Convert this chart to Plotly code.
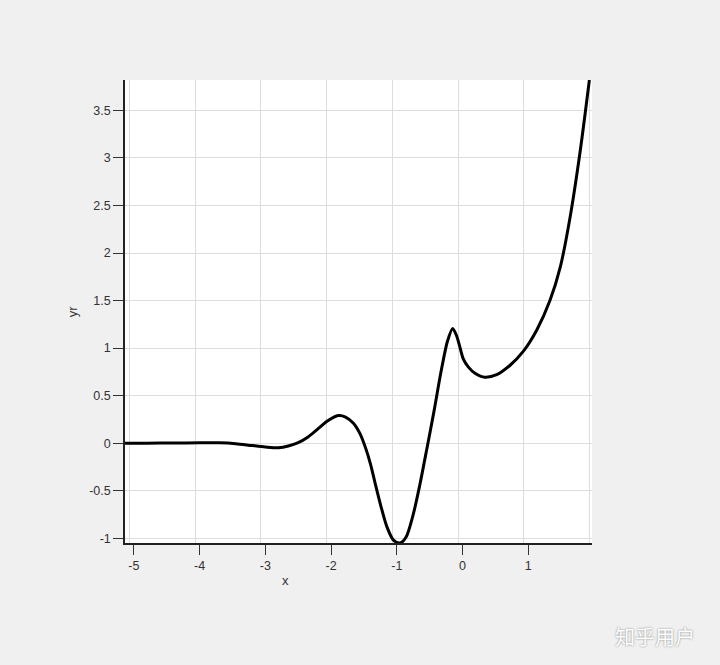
import plotly.graph_objects as go

# data
x_vals = [-5.135, -4.8, -4.4, -4.0, -3.7, -3.45, -3.2, -3.0, -2.8, -2.65,
          -2.5, -2.35, -2.2, -2.05, -1.89, -1.78, -1.66, -1.56, -1.47, -1.4,
          -1.33, -1.25, -1.15, -1.05, -0.95, -0.86, -0.75, -0.65, -0.54, -0.43,
          -0.33, -0.23, -0.15, -0.09, -0.04, 0.01, 0.09, 0.19, 0.34, 0.52,
          0.72, 0.93, 1.13, 1.33, 1.49, 1.64, 1.79, 1.93]
y_vals = [0.0, 0.0, 0.002, 0.004, 0.004, -0.005, -0.025, -0.04, -0.048, -0.03,
          0.005, 0.065, 0.15, 0.235, 0.29, 0.275, 0.21, 0.1, -0.06, -0.22,
          -0.42, -0.64, -0.88, -1.02, -1.05, -0.99, -0.75, -0.44, -0.05, 0.35,
          0.74, 1.07, 1.207, 1.13, 1.01, 0.89, 0.80, 0.736, 0.694, 0.72,
          0.817, 0.97, 1.19, 1.5, 1.86, 2.39, 3.07, 3.82]

x_ticks = [-5, -4, -3, -2, -1, 0, 1]
x_tick_text = ["-5", "-4", "-3", "-2", "-1", "0", "1"]
y_ticks = [-1, -0.5, 0, 0.5, 1, 1.5, 2, 2.5, 3, 3.5]
y_tick_text = ["-1", "-0.5", "0", "0.5", "1", "1.5", "2", "2.5", "3", "3.5"]

x_range = [-5.135, 1.97]
y_range = [-1.05, 3.82]
grid_shift = 0.068  # gridlines sit a few pixels left of the ticks

fig = go.Figure()
# helper trace so the grid axis is drawn
fig.add_trace(go.Scatter(x=[None], y=[None], xaxis="x2", yaxis="y",
                         showlegend=False, hoverinfo="skip"))
fig.add_trace(go.Scatter(x=x_vals, y=y_vals, mode="lines",
                         line=dict(color="#000000", width=3, shape="spline", smoothing=0.8),
                         showlegend=False))

font_family = "Liberation Sans, Arial, sans-serif"

fig.update_layout(
    width=720, height=665,
    margin=dict(l=125, r=128, t=80, b=122),
    paper_bgcolor="#f0f0f0",
    plot_bgcolor="#ffffff",
    font=dict(family=font_family, size=12, color="#333333"),
    xaxis=dict(range=x_range, tickvals=x_ticks, ticktext=x_tick_text,
               showgrid=False, zeroline=False,
               showline=True, linecolor="#222222", linewidth=1.5,
               ticks="outside", ticklen=10, tickcolor="#333333", tickwidth=1,
               tickfont=dict(size=12.5, color="#333333")),
    xaxis2=dict(range=[x_range[0] + grid_shift, x_range[1] + grid_shift],
                overlaying="x", tickvals=x_ticks + [2], showticklabels=False,
                showgrid=True, gridcolor="#dddddd", gridwidth=1, zeroline=False,
                showline=False, ticks=""),
    yaxis=dict(range=y_range, tickvals=y_ticks, ticktext=y_tick_text,
               showgrid=True, gridcolor="#dddddd", gridwidth=1, zeroline=False,
               showline=True, linecolor="#222222", linewidth=1.5,
               ticks="outside", ticklen=10, tickcolor="#333333", tickwidth=1,
               tickfont=dict(size=12.5, color="#333333")),
    annotations=[
        dict(text="x", xref="paper", yref="paper", x=0.344, y=-0.08,
             xanchor="center", yanchor="middle", showarrow=False,
             font=dict(size=13, color="#333333")),
        dict(text="yr", xref="paper", yref="paper", x=-0.112, y=0.5,
             xanchor="center", yanchor="middle", textangle=-90, showarrow=False,
             font=dict(size=13, color="#333333")),
        dict(text="知乎用户", xref="paper", yref="paper", x=1.135, y=-0.203,
             xanchor="center", yanchor="middle", showarrow=False,
             font=dict(family="Noto Sans CJK SC", size=20, color="#ffffff",
                       shadow="0px 0px 2px #777777")),
    ],
)

fig.write_html("out.html", config={"displayModeBar": False},
               post_script="document.body.style.margin='0';document.body.style.background='#f0f0f0';")
